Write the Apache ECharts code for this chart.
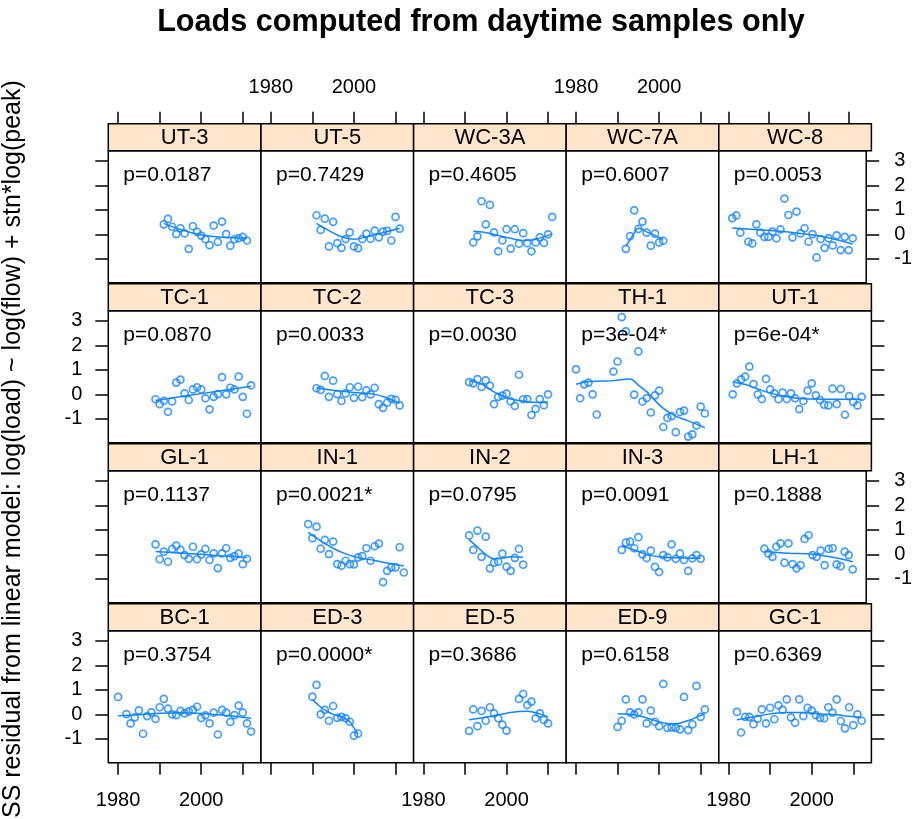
<!DOCTYPE html>
<html>
<head>
<meta charset="utf-8">
<title>Loads computed from daytime samples only</title>
<script src="https://cdn.jsdelivr.net/npm/echarts@6/dist/echarts.min.js"></script>
<style>
    html, body { margin: 0; padding: 0; background: #fff; }
    #main { width: 915px; height: 819px; }
</style>
</head>
<body>
<div id="main"></div>
<script>
    // panels in reading order (row by row, left to right)
    var sites = ['UT-3', 'UT-5', 'WC-3A', 'WC-7A', 'WC-8',
                 'TC-1', 'TC-2', 'TC-3', 'TH-1', 'UT-1',
                 'GL-1', 'IN-1', 'IN-2', 'IN-3', 'LH-1',
                 'BC-1', 'ED-3', 'ED-5', 'ED-9', 'GC-1'];
    var pLabels = ['p=0.0187', 'p=0.7429', 'p=0.4605', 'p=0.6007', 'p=0.0053',
                   'p=0.0870', 'p=0.0033', 'p=0.0030', 'p=3e-04*', 'p=6e-04*',
                   'p=0.1137', 'p=0.0021*', 'p=0.0795', 'p=0.0091', 'p=0.1888',
                   'p=0.3754', 'p=0.0000*', 'p=0.3686', 'p=0.6158', 'p=0.6369'];

    var xTicks = [1980, 1990, 2000, 2010];
    var xTickLabels = [1980, 2000];
    var yTicks = [-1, 0, 1, 2, 3];

    // residuals (points) and smooth fit (line) per site
    var ut3Yr = [1991,1992,1993,1994,1995,1996,1997,1998,1999,2000,2001,2002,2003,2004,2005,2006,2007,2008,2009,2010,2011];
    var ut3Res = [0.41,0.63,0.31,0.01,0.25,0.04,-0.59,0.33,0.10,-0.05,-0.20,-0.44,0.36,-0.31,0.52,0.01,-0.46,-0.20,-0.16,-0.10,-0.25];
    var ut3FitYr = [1991,1995,2000,2005,2011];
    var ut3Fit = [0.45,0.20,-0.02,-0.12,-0.15];

    var ut5Yr = [1991,1992,1993,1994,1995,1996,1997,1998,1999,2000,2001,2002,2003,2004,2005,2006,2007,2008,2009,2010,2011];
    var ut5Res = [0.78,0.18,0.64,-0.49,0.51,-0.36,-0.55,-0.19,0.08,-0.49,-0.56,-0.19,0.03,-0.18,0.15,-0.12,0.11,0.14,-0.25,0.71,0.23];
    var ut5FitYr = [1991,1994,1997,2000,2003,2007,2011];
    var ut5Fit = [0.45,0.15,-0.10,-0.20,-0.10,0.07,0.25];

    var wc3aYr = [1992,1993,1994,1995,1996,1997,1998,1999,2000,2001,2002,2003,2004,2005,2006,2007,2008,2009,2010,2011];
    var wc3aRes = [-0.33,-0.08,1.35,0.41,1.20,0.08,-0.69,-0.25,0.21,-0.58,0.21,-0.38,0.05,-0.36,-0.69,-0.33,-0.12,-0.35,0.00,0.71];
    var wc3aFitYr = [1992,1995,1998,2001,2004,2007,2011];
    var wc3aFit = [0.13,0.08,-0.05,-0.16,-0.25,-0.20,0.02];

    var wc7aYr = [1992,1993,1994,1995,1996,1997,1998,1999,2000,2001];
    var wc7aRes = [-0.59,-0.07,0.98,0.22,0.52,0.07,-0.46,0.03,-0.33,-0.26];
    var wc7aFitYr = [1992,1993,1994,1995,1996,1997,1998,1999,2000,2001];
    var wc7aFit = [-0.48,-0.22,0.05,0.25,0.20,0.10,0.03,-0.05,-0.13,-0.20];

    var wc8Yr = [1981,1982,1983,1985,1986,1987,1988,1989,1990,1991,1992,1993,1994,1995,1996,1997,1998,1999,2000,2001,2002,2003,2004,2005,2006,2007,2008,2009,2010,2011];
    var wc8Res = [0.66,0.77,0.07,-0.30,-0.37,0.41,0.07,-0.10,-0.10,0.11,-0.16,0.20,1.46,0.79,-0.12,0.93,0.04,0.25,-0.30,0.01,-0.94,-0.19,-0.55,-0.16,-0.45,-0.04,-0.64,-0.10,-0.64,-0.16];
    var wc8FitYr = [1981,1988,1995,2002,2007,2011];
    var wc8Fit = [0.26,0.18,0.10,-0.05,-0.22,-0.40];

    var tc1Yr = [1989,1990,1991,1992,1993,1994,1995,1996,1997,1998,1999,2000,2001,2002,2003,2004,2005,2006,2007,2008,2009,2010,2011,2012];
    var tc1Res = [-0.20,-0.40,-0.26,-0.71,-0.29,0.48,0.60,0.04,-0.23,0.20,0.29,0.20,-0.16,-0.61,-0.10,0.01,0.70,0.00,0.27,0.20,0.72,-0.10,-0.79,0.37];
    var tc1FitYr = [1989,2000,2012];
    var tc1Fit = [-0.25,0.03,0.33];

    var tc2Yr = [1991,1992,1993,1994,1995,1996,1997,1998,1999,2000,2001,2002,2003,2004,2005,2006,2007,2008,2009,2010,2011];
    var tc2Res = [0.25,0.18,0.75,-0.10,0.56,0.01,-0.27,0.04,0.29,-0.14,0.31,-0.11,0.16,0.00,0.27,-0.40,-0.55,-0.34,-0.18,-0.22,-0.45];
    var tc2FitYr = [1991,1995,2000,2005,2008,2011];
    var tc2Fit = [0.27,0.17,0.08,0.00,-0.15,-0.36];

    var tc3Yr = [1991,1992,1993,1994,1995,1996,1997,1998,1999,2000,2001,2002,2003,2004,2005,2006,2007,2008,2009,2010];
    var tc3Res = [0.50,0.45,0.62,0.30,0.57,0.36,-0.40,-0.10,-0.05,0.03,-0.28,-0.47,0.80,-0.20,-0.19,-0.84,-0.59,-0.19,-0.44,0.00];
    var tc3FitYr = [1991,1994,1997,2000,2003,2006,2010];
    var tc3Fit = [0.55,0.42,0.10,-0.15,-0.25,-0.32,-0.33];

    var th1Yr = [1980,1981,1982,1983,1984,1985,1989,1990,1991,1992,1994,1995,1996,1997,1998,1999,2000,2001,2002,2003,2004,2005,2006,2007,2008,2009,2010,2011];
    var th1Res = [1.02,-0.16,0.41,0.48,0.00,-0.82,0.93,1.34,3.15,2.57,-0.01,1.75,-0.29,-0.15,-0.74,-0.04,0.15,-1.33,-0.96,-0.89,-1.54,-0.72,-0.66,-1.72,-1.63,-1.27,-0.50,-0.78];
    var th1FitYr = [1980,1983,1986,1989,1993,1995,1997,1998,2001,2004,2007,2011];
    var th1Fit = [0.41,0.52,0.54,0.56,0.63,0.38,0.11,-0.07,-0.57,-0.89,-1.08,-1.36];

    var ut1Yr = [1981,1982,1983,1984,1985,1986,1987,1988,1989,1990,1991,1992,1993,1994,1995,1996,1997,1998,1999,2000,2001,2002,2003,2004,2005,2006,2007,2008,2009,2010,2011,2012];
    var ut1Res = [0.00,0.45,0.61,0.72,1.13,0.42,0.00,-0.19,0.63,0.20,0.04,-0.20,0.07,-0.19,0.04,-0.16,-0.60,-0.27,0.15,0.45,-0.04,-0.23,-0.42,-0.45,0.23,-0.40,0.22,-0.83,-0.07,-0.31,-0.45,-0.10];
    var ut1FitYr = [1981,1984,1987,1990,1994,1998,2002,2007,2012];
    var ut1Fit = [0.50,0.40,0.22,0.05,-0.10,-0.18,-0.20,-0.20,-0.20];

    var gl1Yr = [1989,1990,1991,1992,1993,1994,1995,1996,1997,1998,1999,2000,2001,2002,2003,2004,2005,2006,2007,2008,2009,2010,2011];
    var gl1Res = [0.41,-0.20,0.11,-0.30,0.22,0.36,0.18,-0.03,-0.18,0.31,-0.20,0.00,0.22,-0.23,0.04,-0.56,0.04,0.25,-0.14,-0.07,0.03,-0.40,-0.18];
    var gl1FitYr = [1989,2000,2011];
    var gl1Fit = [0.12,0.00,-0.13];

    var in1Yr = [1989,1990,1991,1992,1993,1994,1995,1996,1997,1998,1999,2000,2001,2002,2003,2004,2005,2006,2007,2008,2009,2010,2011,2012];
    var in1Res = [1.23,0.66,1.13,0.23,0.59,0.01,0.52,-0.40,-0.46,-0.26,-0.40,-0.41,-0.12,-0.07,0.25,-0.26,0.33,0.44,-1.13,-0.67,-0.53,-0.53,0.29,-0.74];
    var in1FitYr = [1989,1992,1995,1998,2001,2005,2008,2012];
    var in1Fit = [0.90,0.55,0.25,0.02,-0.13,-0.25,-0.35,-0.47];

    var in2Yr = [1991,1992,1993,1994,1995,1996,1997,1998,1999,2000,2001,2002,2003,2004];
    var in2Res = [0.77,0.18,0.97,-0.10,0.72,-0.57,-0.34,-0.30,0.03,-0.50,-0.67,-0.14,0.22,-0.42];
    var in2FitYr = [1991,1993,1995,1997,1999,2001,2004];
    var in2Fit = [0.60,0.30,0.00,-0.18,-0.15,-0.10,-0.12];

    var in3Yr = [1991,1992,1993,1994,1995,1996,1997,1998,1999,2000,2001,2002,2003,2004,2005,2006,2007,2008,2009,2010];
    var in3Res = [0.18,0.48,0.52,0.25,0.70,0.00,-0.15,0.15,-0.51,-0.72,-0.03,-0.12,0.41,-0.18,0.04,-0.23,-0.67,-0.16,-0.03,-0.18];
    var in3FitYr = [1991,1994,1997,2000,2004,2010];
    var in3Fit = [0.35,0.18,0.00,-0.10,-0.14,-0.16];

    var lh1Yr = [1989,1990,1991,1992,1993,1994,1995,1996,1997,1998,1999,2000,2001,2002,2003,2004,2005,2006,2007,2008,2009,2010,2011];
    var lh1Res = [0.23,0.04,-0.10,0.31,0.45,-0.34,0.45,-0.40,-0.57,-0.44,0.63,0.78,-0.03,-0.10,0.15,-0.44,0.22,0.25,-0.41,-0.48,0.11,-0.03,-0.61];
    var lh1FitYr = [1989,1995,2001,2006,2011];
    var lh1Fit = [0.12,0.05,0.00,-0.12,-0.30];

    var bc1Yr = [1980,1982,1983,1984,1985,1986,1987,1988,1989,1990,1991,1992,1993,1994,1995,1996,1997,1998,1999,2000,2001,2002,2003,2004,2005,2006,2007,2008,2009,2010,2011,2012];
    var bc1Res = [0.71,0.01,-0.37,-0.12,0.16,-0.79,-0.07,0.08,-0.19,0.29,0.63,0.23,0.00,-0.03,0.14,0.04,0.11,0.18,0.31,-0.15,-0.04,-0.37,0.07,-0.82,0.18,0.07,-0.31,-0.03,0.36,0.07,-0.37,-0.70];
    var bc1FitYr = [1980,1985,1990,1995,2000,2005,2012];
    var bc1Fit = [-0.06,-0.02,0.05,0.07,0.04,-0.03,-0.16];

    var ed3Yr = [1990,1991,1992,1993,1994,1995,1996,1997,1998,1999,2000,2001];
    var ed3Res = [0.72,1.20,0.00,0.18,-0.26,0.34,-0.14,-0.10,-0.16,-0.30,-0.87,-0.78];
    var ed3FitYr = [1990,1991,1992,1993,1995,1997,1998,1999,2000,2001];
    var ed3Fit = [0.60,0.45,0.30,0.18,0.00,-0.10,-0.18,-0.30,-0.55,-0.80];

    var ed5Yr = [1991,1992,1993,1994,1995,1996,1997,1998,1999,2000,2003,2004,2005,2006,2007,2008,2009,2010];
    var ed5Res = [-0.67,0.20,-0.48,0.14,-0.26,0.29,0.04,-0.16,-0.42,-0.66,0.63,0.83,0.38,0.52,-0.16,0.04,-0.23,-0.37];
    var ed5FitYr = [1991,1994,1997,2000,2003,2005,2008,2010];
    var ed5Fit = [-0.22,-0.15,-0.05,0.05,0.12,0.13,0.02,-0.10];

    var ed9Yr = [1990,1991,1992,1993,1994,1995,1996,1997,1998,1999,2000,2001,2002,2003,2004,2005,2006,2007,2008,2009,2010,2011];
    var ed9Res = [-0.51,-0.26,0.61,0.08,0.00,0.08,0.61,-0.37,0.15,-0.30,-0.48,1.24,-0.55,-0.53,-0.55,-0.61,0.71,-0.64,-0.41,1.16,-0.10,0.20];
    var ed9FitYr = [1990,1993,1996,1999,2002,2004,2007,2009,2011];
    var ed9Fit = [0.02,0.00,-0.10,-0.25,-0.37,-0.38,-0.25,-0.12,0.03];

    var gc1Yr = [1982,1983,1984,1985,1986,1987,1988,1989,1990,1991,1992,1993,1994,1995,1996,1997,1998,1999,2000,2001,2002,2003,2004,2005,2006,2007,2008,2009,2010,2011,2012];
    var gc1Res = [0.10,-0.74,-0.10,-0.10,-0.40,-0.18,0.20,-0.37,0.27,-0.20,0.37,0.18,0.61,-0.12,-0.34,0.61,-0.07,0.27,0.15,-0.03,-0.14,-0.16,0.29,0.07,0.61,-0.27,-0.57,0.29,-0.44,0.00,-0.26];
    var gc1FitYr = [1982,1986,1990,1994,1998,2002,2006,2009,2012];
    var gc1Fit = [-0.22,-0.10,0.02,0.08,0.08,0.02,-0.02,-0.08,-0.13];

    var ptYears = [ut3Yr, ut5Yr, wc3aYr, wc7aYr, wc8Yr, tc1Yr, tc2Yr, tc3Yr, th1Yr, ut1Yr,
                   gl1Yr, in1Yr, in2Yr, in3Yr, lh1Yr, bc1Yr, ed3Yr, ed5Yr, ed9Yr, gc1Yr];
    var ptRes = [ut3Res, ut5Res, wc3aRes, wc7aRes, wc8Res, tc1Res, tc2Res, tc3Res, th1Res, ut1Res,
                 gl1Res, in1Res, in2Res, in3Res, lh1Res, bc1Res, ed3Res, ed5Res, ed9Res, gc1Res];
    var fitYears = [ut3FitYr, ut5FitYr, wc3aFitYr, wc7aFitYr, wc8FitYr, tc1FitYr, tc2FitYr, tc3FitYr, th1FitYr, ut1FitYr,
                    gl1FitYr, in1FitYr, in2FitYr, in3FitYr, lh1FitYr, bc1FitYr, ed3FitYr, ed5FitYr, ed9FitYr, gc1FitYr];
    var fitVals = [ut3Fit, ut5Fit, wc3aFit, wc7aFit, wc8Fit, tc1Fit, tc2Fit, tc3Fit, th1Fit, ut1Fit,
                   gl1Fit, in1Fit, in2Fit, in3Fit, lh1Fit, bc1Fit, ed3Fit, ed5Fit, ed9Fit, gc1Fit];

    // layout
    var FONT = 'Liberation Sans, Arial, sans-serif';
    var BLUE = '#1485ff';
    var colLeft = [108.3, 261, 413.6, 566.2, 718.8];
    var panelTop = [150.7, 310.7, 470.7, 630.7];
    var panelW = 152.6, panelH = 132, stripH = 27;

    var grids = [], xAxes = [], yAxes = [], series = [], graphics = [];

    for (var i = 0; i < sites.length; i++) {
        var r = Math.floor(i / 5), c = i % 5;
        grids.push({
            left: colLeft[c], top: panelTop[r], width: panelW, height: panelH,
            show: true, borderColor: '#000', borderWidth: 1.5, backgroundColor: '#fff'
        });

        var xShow = (r === 0 || r === 3);
        var xLab = (r === 0 && c % 2 === 1) || (r === 3 && c % 2 === 0);
        xAxes.push({
            type: 'value', gridIndex: i, min: 1977.64, max: 2014.36,
            show: xShow,
            position: r === 0 ? 'top' : 'bottom',
            offset: r === 0 ? stripH : 0,
            splitLine: {show: false},
            axisLine: {show: false, onZero: false},
            axisTick: {show: true, inside: false, length: 12, customValues: xTicks,
                       lineStyle: {color: '#000', width: 1.5}},
            axisLabel: {show: xLab, customValues: xTickLabels, fontSize: 20, color: '#000',
                        fontFamily: FONT, margin: r === 0 ? 26 : 28,
                        formatter: function (v) { return String(v); }}
        });

        var yShow = (c === 0 || c === 4);
        var yLab = (c === 0 && r % 2 === 1) || (c === 4 && r % 2 === 0);
        yAxes.push({
            type: 'value', gridIndex: i, min: -1.97, max: 3.41,
            show: yShow,
            position: c === 4 ? 'right' : 'left',
            splitLine: {show: false},
            axisLine: {show: false, onZero: false},
            axisTick: {show: true, inside: false, length: 13, customValues: yTicks,
                       lineStyle: {color: '#000', width: 1.5}},
            axisLabel: {show: yLab, customValues: yTicks, fontSize: 20, color: '#000',
                        fontFamily: FONT, margin: c === 4 ? 28 : 26}
        });

        series.push({
            type: 'scatter', xAxisIndex: i, yAxisIndex: i,
            data: ptYears[i].map(function (y, k) { return [y, ptRes[i][k]]; }),
            symbol: 'circle', symbolSize: 7,
            itemStyle: {color: 'rgba(0,0,0,0)', borderColor: BLUE, borderWidth: 1.7},
            z: 3
        });
        series.push({
            type: 'line', xAxisIndex: i, yAxisIndex: i,
            data: fitYears[i].map(function (y, k) { return [y, fitVals[i][k]]; }),
            smooth: 0.4, showSymbol: false,
            lineStyle: {color: BLUE, width: 1.5},
            z: 2
        });

        // strip
        graphics.push({
            type: 'rect',
            shape: {x: colLeft[c], y: panelTop[r] - stripH, width: panelW, height: stripH},
            style: {fill: '#ffe5cc', stroke: '#000', lineWidth: 1.5},
            z: 10
        });
        graphics.push({
            type: 'text',
            x: colLeft[c] + panelW / 2, y: panelTop[r] - stripH / 2 + 1,
            style: {text: sites[i], font: '22px ' + FONT, fill: '#000',
                    textAlign: 'center', textVerticalAlign: 'middle'},
            z: 11
        });
        // p-value
        graphics.push({
            type: 'text',
            x: colLeft[c] + 15, y: panelTop[r] + 25,
            style: {text: pLabels[i], font: '21px ' + FONT, fill: '#000',
                    textAlign: 'left', textVerticalAlign: 'middle'},
            z: 11
        });
    }

    graphics.push({
        type: 'text', x: 481, y: 23,
        style: {text: 'Loads computed from daytime samples only', font: 'bold 30.6px ' + FONT,
                fill: '#000', textAlign: 'center', textVerticalAlign: 'middle'}
    });
    graphics.push({
        type: 'text', x: 13, y: 818, rotation: Math.PI / 2,
        style: {text: 'SS residual from linear model: log(load) ~ log(flow) + stn*log(peak)',
                font: '25px ' + FONT, fill: '#000', textAlign: 'left', textVerticalAlign: 'middle'}
    });

    var chart = echarts.init(document.getElementById('main'));
    chart.setOption({
        animation: false,
        backgroundColor: '#fff',
        grid: grids,
        xAxis: xAxes,
        yAxis: yAxes,
        series: series,
        graphic: graphics
    });
</script>
</body>
</html>
